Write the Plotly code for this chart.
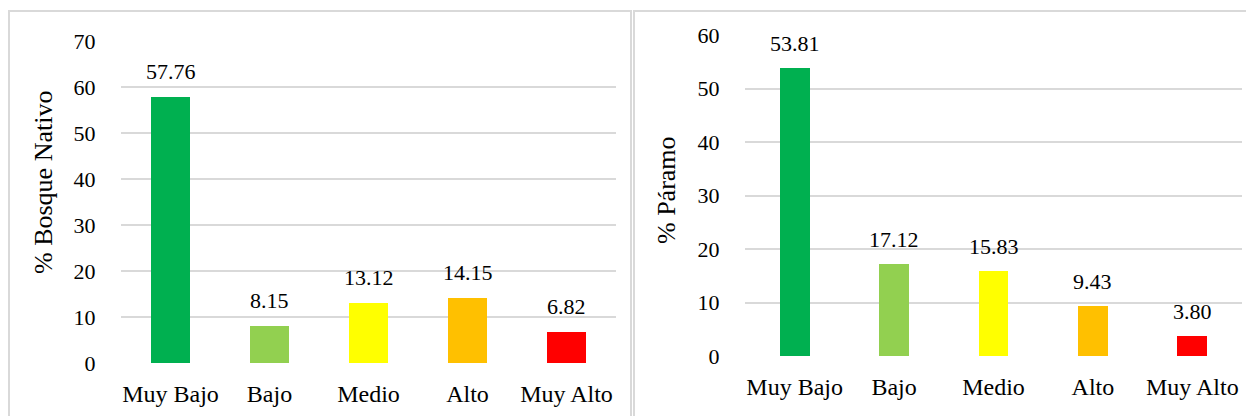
import plotly.graph_objects as go

W, H = 1246, 416

categories = ["Muy Bajo", "Bajo", "Medio", "Alto", "Muy Alto"]
bosque_values = [57.76, 8.15, 13.12, 14.15, 6.82]
paramo_values = [53.81, 17.12, 15.83, 9.43, 3.80]
bar_colors = ["#00B050", "#92D050", "#FFFF00", "#FFC000", "#FF0000"]
left_title = "% Bosque Nativo"
right_title = "% Páramo"

FONT = "Liberation Serif"
GRID = "#D9D9D9"

def px(x):
    return x / W

def py(y):
    return 1 - y / H

fig = go.Figure()

fig.add_trace(go.Bar(x=categories, y=bosque_values, marker_color=bar_colors,
                     width=0.40, xaxis="x", yaxis="y", showlegend=False,
                     hoverinfo="x+y"))
fig.add_trace(go.Bar(x=categories, y=paramo_values, marker_color=bar_colors,
                     width=0.30, xaxis="x2", yaxis="y2", showlegend=False,
                     hoverinfo="x+y"))

annotations = []
for c, v in zip(categories, bosque_values):
    annotations.append(dict(x=c, y=v, xref="x", yref="y", text=f"{v:.2f}",
                            showarrow=False, yanchor="bottom", yshift=11,
                            font=dict(family=FONT, size=22, color="#000")))
for c, v in zip(categories, paramo_values):
    annotations.append(dict(x=c, y=v, xref="x2", yref="y2", text=f"{v:.2f}",
                            showarrow=False, yanchor="bottom", yshift=10,
                            font=dict(family=FONT, size=22, color="#000")))

annotations.append(dict(x=px(43), y=py(183), xref="paper", yref="paper",
                        text=left_title, textangle=-90, showarrow=False,
                        xanchor="center", yanchor="middle",
                        font=dict(family=FONT, size=26, color="#000")))
annotations.append(dict(x=px(667), y=py(190), xref="paper", yref="paper",
                        text=right_title, textangle=-90, showarrow=False,
                        xanchor="center", yanchor="middle",
                        font=dict(family=FONT, size=26, color="#000")))

shapes = [
    dict(type="rect", xref="paper", yref="paper",
         x0=px(9), x1=px(631), y0=py(11), y1=py(440),
         line=dict(color=GRID, width=2), fillcolor="rgba(0,0,0,0)", layer="below"),
    dict(type="rect", xref="paper", yref="paper",
         x0=px(634), x1=px(1270), y0=py(11), y1=py(440),
         line=dict(color=GRID, width=2), fillcolor="rgba(0,0,0,0)", layer="below"),
]

ytickfont = dict(family=FONT, size=22, color="#000")
xtickfont = dict(family=FONT, size=24, color="#000")

xa = dict(range=[-0.5, 4.5], showgrid=False, zeroline=False, showline=False,
          ticks="outside", ticklen=9, tickcolor="rgba(0,0,0,0)",
          tickfont=xtickfont, fixedrange=True, automargin=False)
ya = dict(showgrid=True, gridcolor=GRID, gridwidth=2, zeroline=False,
          showline=False, ticks="outside", ticklen=20, tickcolor="rgba(0,0,0,0)",
          tickfont=ytickfont, dtick=10, fixedrange=True, automargin=False)

fig.update_layout(
    template="none",
    width=W, height=H,
    margin=dict(l=0, r=0, t=0, b=0, pad=0, autoexpand=False),
    paper_bgcolor="white", plot_bgcolor="white",
    font=dict(family=FONT, color="#000"),
    xaxis=dict(xa, domain=[px(121), px(616)], anchor="y"),
    yaxis=dict(ya, domain=[py(363), py(41)], range=[0, 70], anchor="x"),
    xaxis2=dict(xa, domain=[px(745), px(1242)], anchor="y2"),
    yaxis2=dict(ya, domain=[py(356), py(35)], range=[0, 60], anchor="x2"),
    annotations=annotations,
    shapes=shapes,
    bargap=0,
)

fig.write_html(
    "out.html",
    config={"displayModeBar": False},
    post_script="document.body.style.margin='0';document.body.style.overflow='hidden';",
)
